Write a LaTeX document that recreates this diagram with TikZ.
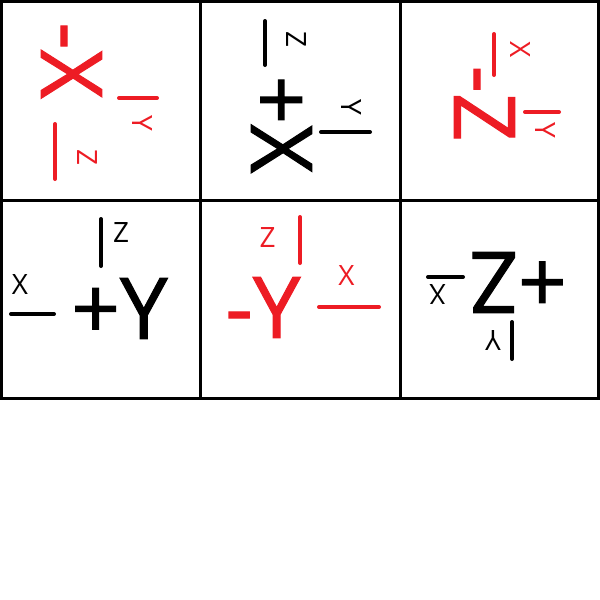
\documentclass[tikz,border=0pt]{standalone}
\usepackage{fontspec}
\setmainfont{Open Sans}
\newfontfamily\facefont{Open Sans}[RawFeature={embolden=1.2}]
\definecolor{paintred}{RGB}{237,28,36}

\begin{document}
\begin{tikzpicture}[x=1pt,y=-1pt,
  grid/.style={line width=3pt},
  face/.style={inner sep=0pt,font=\facefont\fontsize{85}{85}\selectfont},
  axlabel/.style={inner sep=0pt,font=\fontsize{28}{28}\selectfont},
  axline/.style={line width=4pt,line cap=round}
]
  \useasboundingbox (0,0) rectangle (600,600);
  \draw[grid] (1.5,1.5) rectangle (598.5,398.5);
  \draw[grid] (200,1.5) -- (200,398.5) (400,1.5) -- (400,398.5) (1.5,200) -- (598.5,200);

  \begin{scope}[paintred]
    \node[face,rotate=-90] (negx) at (71.5,60.5) {-X};
    \node[axlabel,rotate=-90] (negxy) at (142.5,123) {Y};
    \node[axlabel,rotate=-90] (negxz) at (87,157) {Z};
    \draw[axline] (119,98) -- (157,98);
    \draw[axline] (55,124) -- (55,179);
  \end{scope}

  \node[face,rotate=-90] (posx) at (281.5,124.5) {+X};
  \node[axlabel,rotate=-90] (posxz) at (296,39) {Z};
  \node[axlabel,rotate=-90] (posxy) at (351,107) {Y};
  \draw[axline] (265,21) -- (265,65);
  \draw[axline] (321,132) -- (370,132);

  \begin{scope}[paintred]
    \node[face,rotate=-90] (negz) at (484.5,103.5) {-Z};
    \node[axlabel,rotate=-90] (negzx) at (520,50) {X};
    \node[axlabel,rotate=-90] (negzy) at (545,130) {Y};
    \draw[axline] (494,34) -- (494,75);
    \draw[axline] (525,112) -- (559,112);
  \end{scope}

  \node[face] (posy) at (119.5,308.5) {+Y};
  \node[axlabel] (posyz) at (121,233) {Z};
  \node[axlabel] (posyx) at (20,285) {X};
  \draw[axline] (101,219) -- (101,266);
  \draw[axline] (11,314) -- (54,314);

  \begin{scope}[paintred]
    \node[face] (negy) at (263,307.5) {-Y};
    \node[axlabel] (negyz) at (267.5,238) {Z};
    \node[axlabel] (negyx) at (346.5,276) {X};
    \draw[axline] (300,217) -- (300,263);
    \draw[axline] (319,307) -- (379,307);
  \end{scope}

  \node[face,rotate=180] (posz) at (518,282.5) {+Z};
  \node[axlabel,rotate=180] (poszx) at (437.5,294.5) {X};
  \node[axlabel,rotate=180] (poszy) at (493,340.5) {Y};
  \draw[axline] (428,277) -- (463,277);
  \draw[axline] (512,322) -- (512,359);
\end{tikzpicture}
\end{document}
